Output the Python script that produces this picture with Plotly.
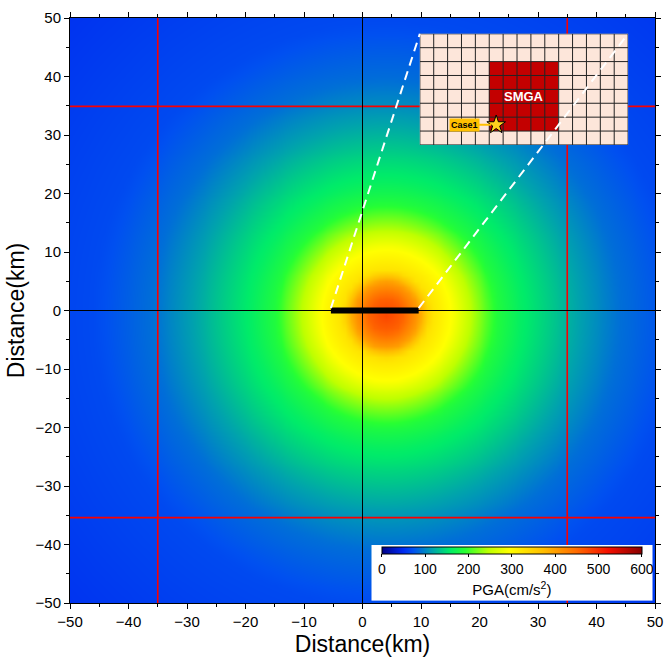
import numpy as np
import plotly.graph_objects as go

# ---------------- data ----------------
# PGA attenuation profile (distance from source centre, km -> PGA cm/s^2)
profile_r_km = [0, 3, 5.7, 7.5, 11.5, 14.8, 19, 23, 28, 33, 40, 50, 75]
profile_pga = [480, 455, 400, 330, 290, 240, 185, 160, 138, 115, 88, 68, 54]
source_centre = [4.0, -0.7]

grid_x = list(np.arange(-50, 50.5, 1.0))
grid_y = list(np.arange(-50, 50.5, 1.0))

fault_x = [-5.4, 9.6]          # fault trace (km) at y = 0
red_lines_x = [-35, 35]
red_lines_y = [34.9, -35.4]

inset_x_km = [9.8, 45.4]       # inset box extent in map coordinates
inset_y_km = [28.3, 47.3]
inset_cols = 15
inset_rows = 8
smga_cols = [5, 10]
smga_rows = [1, 6]
hypo = [5.5, 1.45]

cbar_ticks = [0, 100, 200, 300, 400, 500, 600]

# ---------------- field ----------------
X, Y = np.meshgrid(grid_x, grid_y)
R = np.sqrt((X - source_centre[0]) ** 2 + (Y - source_centre[1]) ** 2)
Z = np.interp(R, profile_r_km, profile_pga)

colorscale = [
    [0.00, "rgb(0,0,135)"],
    [0.08, "rgb(0,40,240)"],
    [0.12, "rgb(0,80,240)"],
    [0.19, "rgb(0,160,175)"],
    [0.26, "rgb(0,235,105)"],
    [0.32, "rgb(40,255,50)"],
    [0.41, "rgb(190,255,0)"],
    [0.49, "rgb(255,255,0)"],
    [0.62, "rgb(255,190,0)"],
    [0.75, "rgb(255,105,0)"],
    [0.87, "rgb(245,15,0)"],
    [1.00, "rgb(135,0,0)"],
]

FONT = "Liberation Sans, Arial, Helvetica, sans-serif"

fig = go.Figure()

fig.add_trace(go.Heatmap(
    x=grid_x, y=grid_y, z=Z, zmin=0, zmax=600, zsmooth="best",
    colorscale=colorscale, hoverinfo="skip",
    colorbar=dict(
        orientation="h", x=0.516, xanchor="left", y=0.099, yanchor="top",
        len=0.4786, lenmode="fraction", thickness=7, thicknessmode="pixels",
        tickvals=cbar_ticks, ticks="outside", ticklen=3, tickcolor="black",
        tickfont=dict(size=14, color="black", family=FONT),
        title=dict(text="PGA(cm/s<sup>2</sup>)", side="bottom",
                   font=dict(size=15, color="black", family=FONT)),
        bgcolor="white", outlinecolor="black", outlinewidth=1,
        xpad=10, ypad=2,
    ),
))

# red reference lines
for xv in red_lines_x:
    fig.add_trace(go.Scatter(x=[xv, xv], y=[-50, 50], mode="lines",
                             line=dict(color="rgb(250,0,0)", width=1.6),
                             showlegend=False, hoverinfo="skip"))
for yv in red_lines_y:
    fig.add_trace(go.Scatter(x=[-50, 50], y=[yv, yv], mode="lines",
                             line=dict(color="rgb(250,0,0)", width=1.6),
                             showlegend=False, hoverinfo="skip"))
# zero lines
fig.add_trace(go.Scatter(x=[0, 0], y=[-50, 50], mode="lines",
                         line=dict(color="black", width=1), showlegend=False, hoverinfo="skip"))
fig.add_trace(go.Scatter(x=[-50, 50], y=[0, 0], mode="lines",
                         line=dict(color="black", width=1), showlegend=False, hoverinfo="skip"))
# fault trace
fig.add_trace(go.Scatter(x=fault_x, y=[0, 0], mode="lines",
                         line=dict(color="black", width=6), showlegend=False, hoverinfo="skip"))

# ---------------- inset ----------------
zin = np.zeros((inset_rows, inset_cols))
zin[smga_rows[0]:smga_rows[1], smga_cols[0]:smga_cols[1]] = 1
fig.add_trace(go.Heatmap(
    x=np.arange(inset_cols) + 0.5, y=np.arange(inset_rows) + 0.5, z=zin,
    zmin=0, zmax=1, colorscale=[[0, "rgb(253,230,218)"], [1, "rgb(195,0,0)"]],
    showscale=False, hoverinfo="skip", xaxis="x2", yaxis="y2"))

gx, gy = [], []
for i in range(inset_cols + 1):
    gx += [i, i, None]
    gy += [0, inset_rows, None]
for j in range(inset_rows + 1):
    gx += [0, inset_cols, None]
    gy += [j, j, None]
fig.add_trace(go.Scatter(x=gx, y=gy, mode="lines", line=dict(color="rgb(35,35,35)", width=1),
                         showlegend=False, hoverinfo="skip", xaxis="x2", yaxis="y2"))
fig.add_trace(go.Scatter(x=[hypo[0]], y=[hypo[1]], mode="markers",
                         marker=dict(symbol="star", size=14, color="rgb(255,210,30)",
                                     line=dict(color="black", width=1)),
                         showlegend=False, hoverinfo="skip", xaxis="x2", yaxis="y2"))

fig.add_annotation(x=(smga_cols[0] + smga_cols[1]) / 2, y=(smga_rows[0] + smga_rows[1]) / 2,
                   xref="x2", yref="y2", text="<b>SMGA</b>", showarrow=False,
                   font=dict(size=13, color="white", family=FONT))
fig.add_annotation(x=hypo[0], y=hypo[1], xref="x2", yref="y2", text="<b>Case1</b>",
                   showarrow=True, ax=-32, ay=0, arrowcolor="rgb(255,192,0)", arrowwidth=2,
                   arrowhead=0, standoff=5, bgcolor="rgb(255,192,0)", borderpad=1,
                   font=dict(size=9, color="black", family=FONT))

# white dashed connectors (drawn above everything)
fig.add_shape(type="line", x0=fault_x[0], y0=0.4, x1=inset_x_km[0], y1=inset_y_km[1],
              xref="x", yref="y", line=dict(color="white", width=2, dash="9px,6px"), layer="above")
fig.add_shape(type="line", x0=fault_x[1], y0=0.4, x1=inset_x_km[1], y1=inset_y_km[1],
              xref="x", yref="y", line=dict(color="white", width=2, dash="9px,6px"), layer="above")

axis_common = dict(
    range=[-50, 50], showgrid=False, zeroline=False, showline=True, mirror="ticks",
    linecolor="black", linewidth=1, ticks="outside", ticklen=5, tickcolor="black",
    dtick=10, tick0=0, tickfont=dict(size=15, color="black", family=FONT),
    minor=dict(dtick=5, ticks="outside", ticklen=3, tickcolor="black"),
    automargin=False,
)
fig.update_layout(
    width=665, height=657,
    margin=dict(l=70, r=10, t=18, b=54, autoexpand=False),
    paper_bgcolor="white", plot_bgcolor="white",
    font=dict(family=FONT, color="black"),
    showlegend=False,
    xaxis=dict(**axis_common, title=dict(text="Distance(km)", font=dict(size=23), standoff=6)),
    yaxis=dict(**axis_common, title=dict(text="Distance(km)", font=dict(size=23), standoff=4)),
    xaxis2=dict(domain=[(inset_x_km[0] + 50) / 100, (inset_x_km[1] + 50) / 100],
                range=[0, inset_cols], visible=False, anchor="y2"),
    yaxis2=dict(domain=[(inset_y_km[0] + 50) / 100, (inset_y_km[1] + 50) / 100],
                range=[0, inset_rows], visible=False, anchor="x2"),
)

fig.write_html("out.html", config={"displayModeBar": False},
               post_script="document.body.style.margin='0px';document.body.style.overflow='hidden';")
